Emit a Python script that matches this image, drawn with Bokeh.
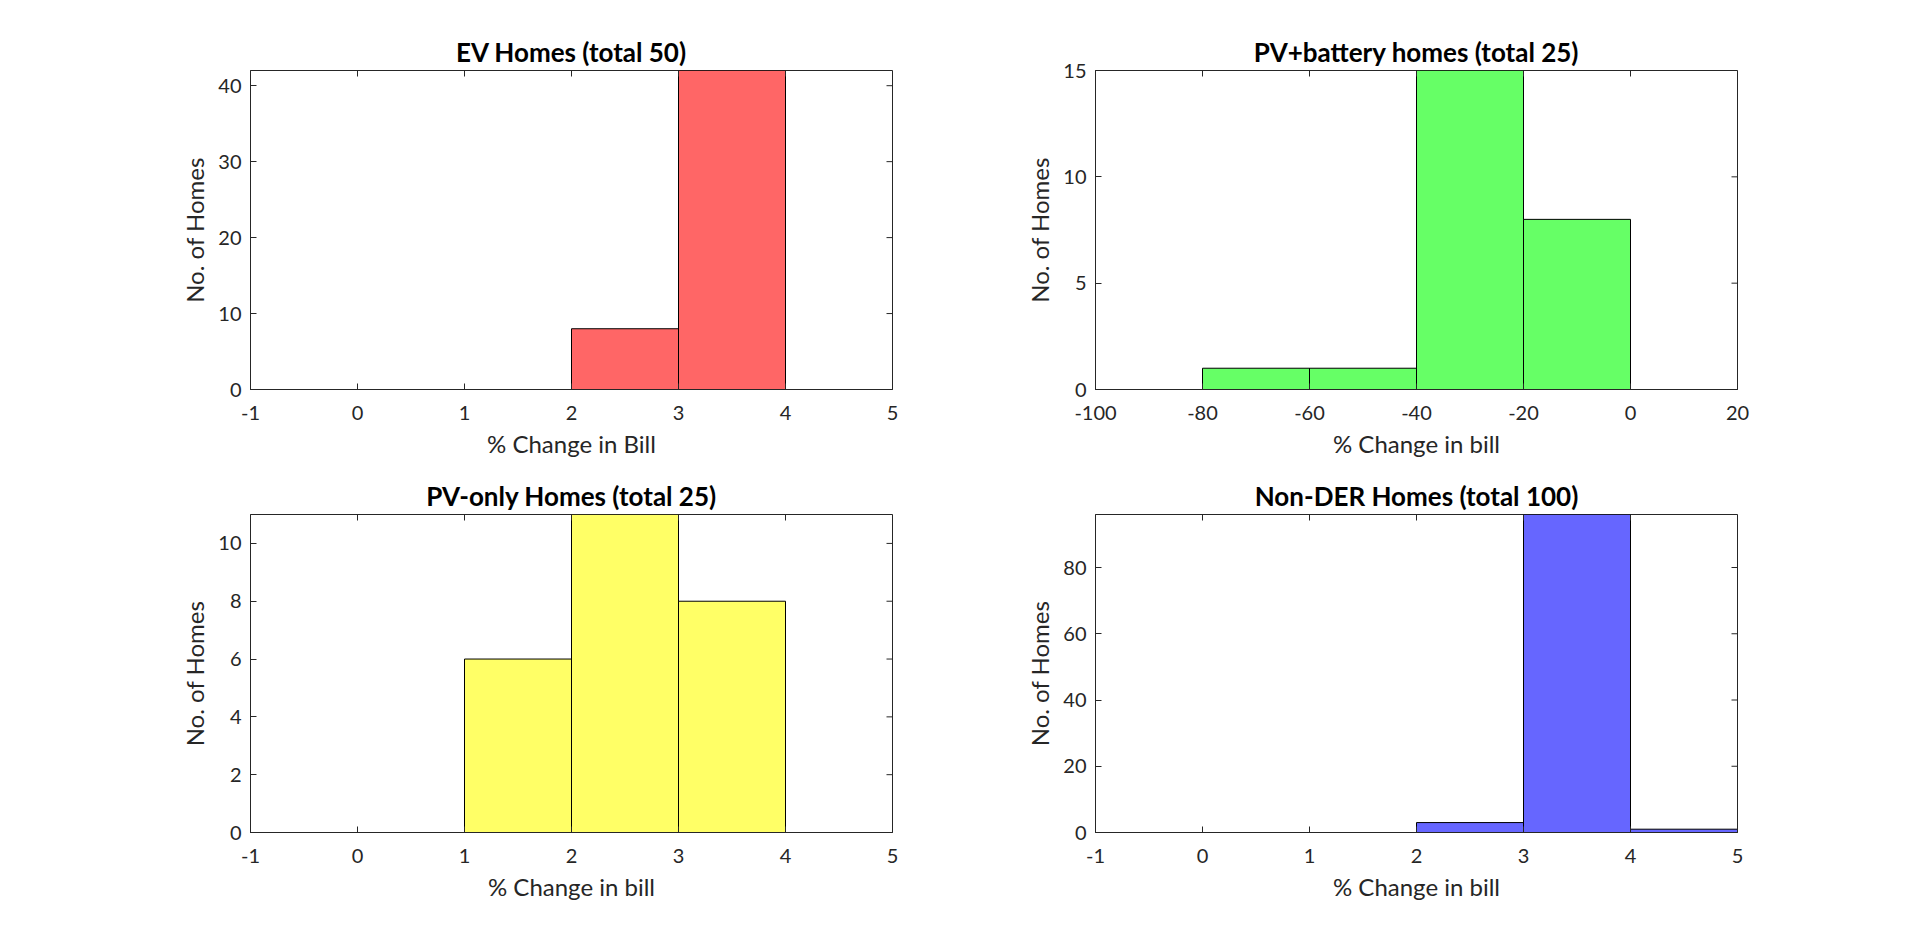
from bokeh.plotting import figure
from bokeh.layouts import column, row
from bokeh.models import Range1d, FixedTicker
from bokeh.embed import file_html
from bokeh.resources import INLINE

# ---- data ----
ev_left = [2, 3]
ev_right = [3, 4]
ev_counts = [8, 42]

pvb_left = [-80, -60, -40, -20]
pvb_right = [-60, -40, -20, 0]
pvb_counts = [1, 1, 15, 8]

pvo_left = [1, 2, 3]
pvo_right = [2, 3, 4]
pvo_counts = [6, 11, 8]

non_left = [2, 3, 4]
non_right = [3, 4, 5]
non_counts = [3, 96, 1]

ticks_small = [-1, 0, 1, 2, 3, 4, 5]
ticks_pvb = [-100, -80, -60, -40, -20, 0, 20]
yt_ev = [0, 10, 20, 30, 40]
yt_pvb = [0, 5, 10, 15]
yt_pvo = [0, 2, 4, 6, 8, 10]
yt_non = [0, 20, 40, 60, 80]

TXT = "#262626"
FONT = "Lato"
TICK_LEN = 6


def make(title, xlabel, xr, yr, xticks, yticks, left, right, counts, color,
         fw, fh, bl, br, bt, bb):
    p = figure(frame_width=fw, frame_height=fh,
               x_range=Range1d(*xr), y_range=Range1d(*yr),
               output_backend="svg", toolbar_location=None,
               min_border_left=bl, min_border_right=br,
               min_border_top=bt, min_border_bottom=bb,
               title=title)
    p.title.align = "center"
    p.title.text_font = FONT
    p.title.text_font_size = "26px"
    p.title.text_font_style = "bold"
    p.title.text_color = "black"
    p.title.standoff = 6
    p.grid.visible = False
    p.outline_line_color = TXT
    p.outline_line_alpha = 1.0
    p.background_fill_color = "white"
    p.border_fill_color = "white"

    p.quad(left=left, right=right, bottom=0, top=counts,
           fill_color=color, line_color="black", line_width=1)

    for ax, tk in ((p.xaxis[0], xticks), (p.yaxis[0], yticks)):
        ax.ticker = FixedTicker(ticks=tk)
        ax.major_label_overrides = {t: str(t) for t in tk}
        ax.major_tick_in = TICK_LEN
        ax.major_tick_out = 0
        ax.minor_tick_in = 0
        ax.minor_tick_out = 0
        ax.axis_line_color = TXT
        ax.major_tick_line_color = TXT
        ax.major_label_text_font = FONT
        ax.major_label_text_font_size = "20px"
        ax.major_label_text_color = TXT
        ax.axis_label_text_color = TXT
        ax.axis_label_text_font = FONT
        ax.axis_label_text_font_size = "24px"
        ax.axis_label_text_font_style = "normal"
    p.xaxis.axis_label = xlabel
    p.xaxis.major_label_standoff = 16
    p.xaxis.axis_label_standoff = 6
    p.yaxis.axis_label = "No. of Homes"
    p.yaxis.major_label_standoff = 9
    p.yaxis.axis_label_standoff = 6

    # mirrored inward ticks on the top and right edges (box on)
    p.extra_x_ranges = {"px": Range1d(0, fw)}
    p.extra_y_ranges = {"py": Range1d(0, fh)}
    p.segment(x0=xticks, x1=xticks, y0=[fh - TICK_LEN] * len(xticks),
              y1=[fh] * len(xticks), y_range_name="py",
              line_color=TXT, line_width=1)
    p.segment(x0=[fw - TICK_LEN] * len(yticks), x1=[fw] * len(yticks),
              y0=yticks, y1=yticks, x_range_name="px",
              line_color=TXT, line_width=1)
    return p


p1 = make("EV Homes (total 50)", "% Change in Bill", (-1, 5), (0, 42),
          ticks_small, yt_ev, ev_left, ev_right, ev_counts,
          "#FF6666", 642, 319, 250, 100, 70, 80)
p2 = make("PV+battery homes (total 25)", "% Change in bill", (-100, 20), (0, 15),
          ticks_pvb, yt_pvb, pvb_left, pvb_right, pvb_counts,
          "#66FF66", 642, 319, 103, 150, 70, 80)
p3 = make("PV-only Homes (total 25)", "% Change in bill", (-1, 5), (0, 11),
          ticks_small, yt_pvo, pvo_left, pvo_right, pvo_counts,
          "#FFFF66", 642, 318, 250, 100, 45, 80)
p4 = make("Non-DER Homes (total 100)", "% Change in bill", (-1, 5), (0, 96),
          ticks_small, yt_non, non_left, non_right, non_counts,
          "#6666FF", 642, 318, 103, 150, 45, 80)

layout = column(row(p1, p2, spacing=0), row(p3, p4, spacing=0), spacing=0)
open("out.html", "w").write(file_html(layout, INLINE))
